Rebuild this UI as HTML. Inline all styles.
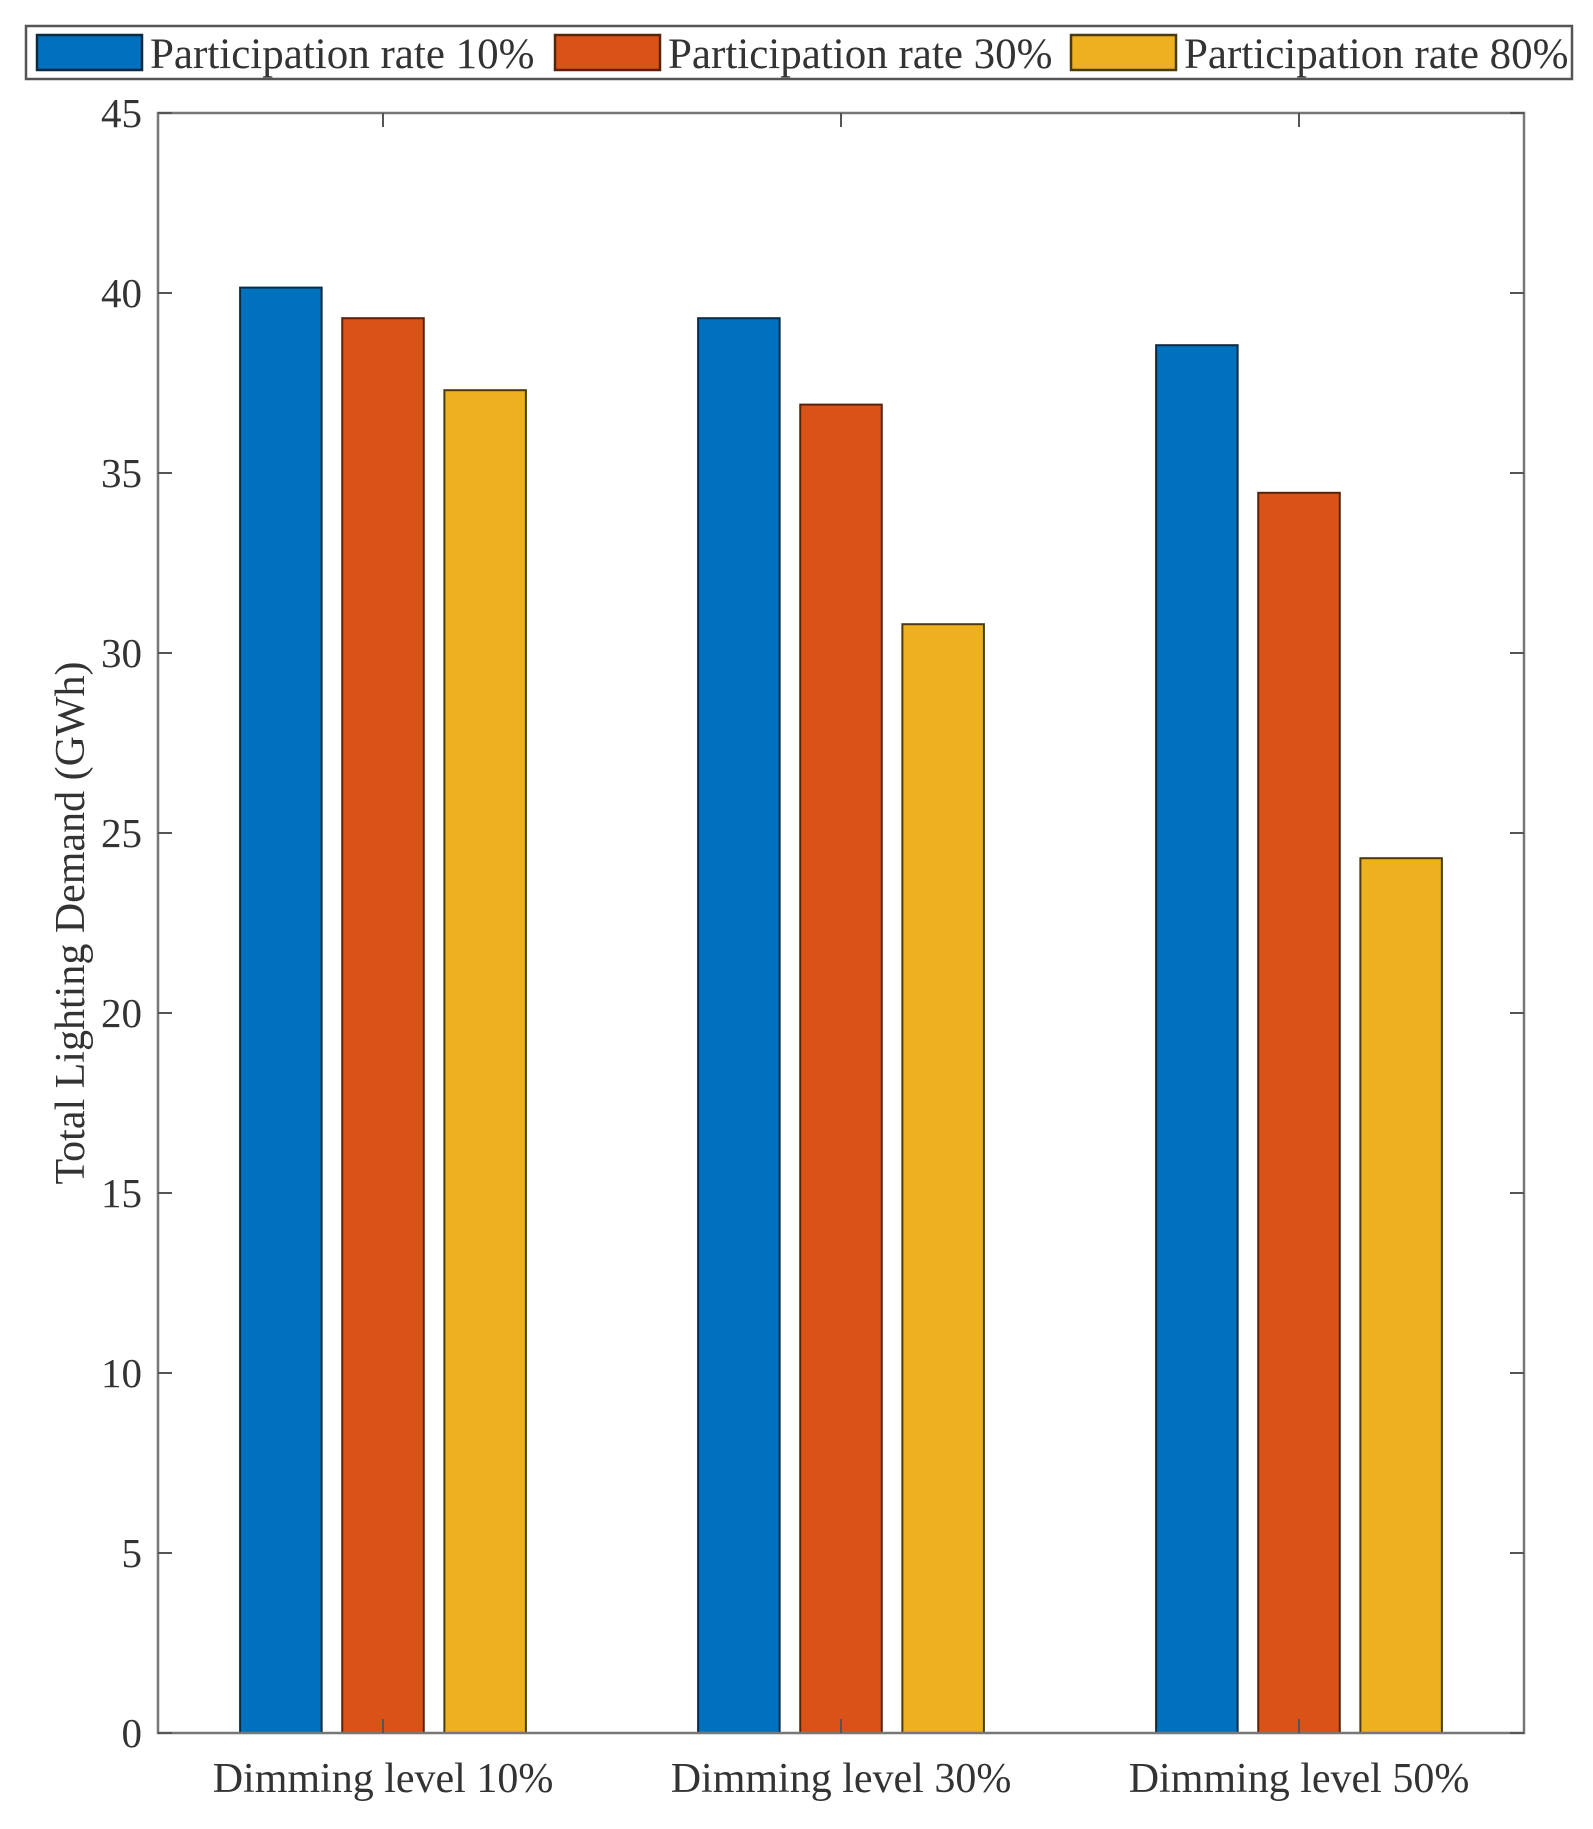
<!DOCTYPE html>
<html><head><meta charset="utf-8"><style>
html,body{margin:0;padding:0;background:#fff;}
svg{display:block;font-family:"Liberation Serif",serif;}
</style></head><body>
<svg id="chart" width="1593" height="1829" viewBox="0 0 1593 1829">
<g id="legend">
<rect x="26" y="26" width="1546" height="53" fill="#fff" stroke="#555" stroke-width="2.5"/>
</g>
<g id="bars"></g>
<g id="axes"></g>
</svg>
<script>
const categories = ["Dimming level 10%", "Dimming level 30%", "Dimming level 50%"];
const seriesNames = ["Participation rate 10%", "Participation rate 30%", "Participation rate 80%"];
const rate10 = [40.15, 39.3, 38.55];
const rate30 = [39.3, 36.9, 34.45];
const rate80 = [37.3, 30.8, 24.3];
const yTicks = [0, 5, 10, 15, 20, 25, 30, 35, 40, 45];

const NS = "http://www.w3.org/2000/svg";
const L = 158, R = 1524, T = 113, B = 1733;
const yMax = 45;
const colors = ["#0072BD", "#D95319", "#EDB120"];
const edges = ["#0b2a45", "#5a220a", "#4a3a10"];
const series = [rate10, rate30, rate80];
const unit = 458;
function yS(v){ return B - v / yMax * (B - T); }
function xS(i){ return (L + R) / 2 + (i - (categories.length - 1) / 2) * unit; }
const bw = 0.178 * unit, step = 0.223 * unit;
function mk(tag, attrs, parent){ const e = document.createElementNS(NS, tag); for (const k in attrs) e.setAttribute(k, attrs[k]); parent.appendChild(e); return e; }

const bars = document.getElementById("bars");
series.forEach((vals, s) => {
  vals.forEach((v, i) => {
    const cx = xS(i) + (s - 1) * step;
    const r = mk("rect", {x: cx - bw/2, y: yS(v), width: bw, height: yS(0) - yS(v), fill: colors[s], stroke: edges[s], "stroke-width": 2}, bars);
    
    
  });
});

const ax = document.getElementById("axes");
const frame = mk("rect", {x: L, y: T, width: R - L, height: B - T, fill: "none", stroke: "#777", "stroke-width": 2.5}, ax);


yTicks.forEach(t => {
  const y = yS(t);
  mk("line", {x1: L, x2: L + 14, y1: y, y2: y, stroke: "#555", "stroke-width": 2}, ax);
  mk("line", {x1: R, x2: R - 14, y1: y, y2: y, stroke: "#555", "stroke-width": 2}, ax);
  const tx = mk("text", {x: L - 16, y: y + 14, "text-anchor": "end", "font-size": 41, fill: "#333"}, ax);
  tx.textContent = t;
  
  
});
categories.forEach((c, i) => {
  const x = xS(i);
  mk("line", {x1: x, x2: x, y1: B, y2: B - 14, stroke: "#555", "stroke-width": 2}, ax);
  mk("line", {x1: x, x2: x, y1: T, y2: T + 14, stroke: "#555", "stroke-width": 2}, ax);
  const tx = mk("text", {x: x, y: 1792, "text-anchor": "middle", "font-size": 42, fill: "#333"}, ax);
  tx.textContent = c;
  
  
});
const yt = mk("text", {x: 0, y: 0, "text-anchor": "middle", "font-size": 42, fill: "#333", transform: "translate(84,923) rotate(-90)"}, ax);
yt.textContent = "Total Lighting Demand (GWh)";



const lg = document.getElementById("legend");
const swX = [37, 555, 1071];
seriesNames.forEach((n, s) => {
  const sw = mk("rect", {x: swX[s], y: 35, width: 105, height: 35, fill: colors[s], stroke: edges[s], "stroke-width": 2.5}, lg);
  
  
  const tx = mk("text", {x: swX[s] + 113, y: 68, "font-size": 43, fill: "#333"}, lg);
  tx.textContent = n;
  
  
});
</script>
</body></html>
